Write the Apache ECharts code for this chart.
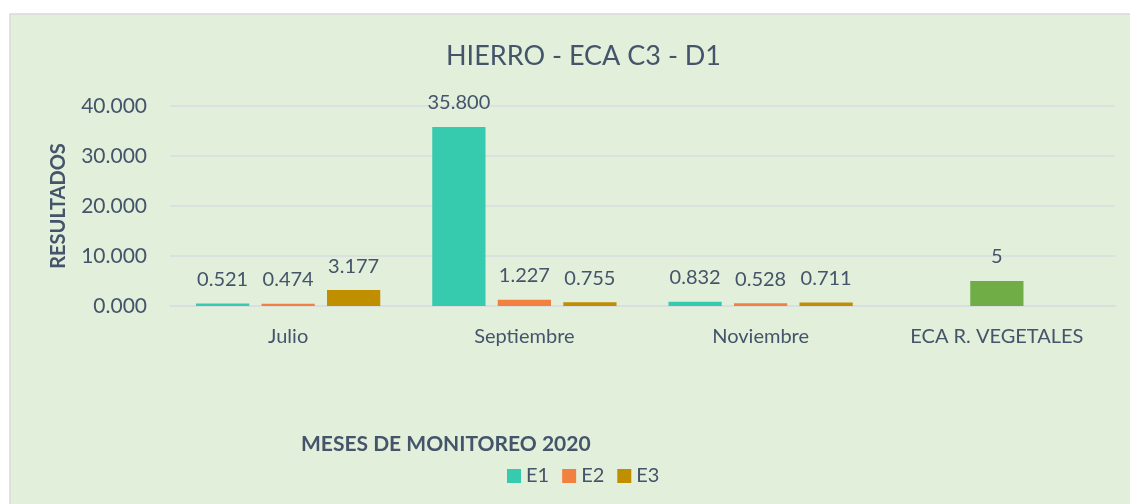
<!DOCTYPE html>
<html>
<head>
<meta charset="utf-8">
<script src="https://cdn.jsdelivr.net/npm/echarts@6/dist/echarts.min.js"></script>
<style>
  html, body { margin: 0; padding: 0; background: #fff; }
  #chart { width: 1130px; height: 504px; }
</style>
</head>
<body>
<div id="chart"></div>
<script>
// meses de monitoreo
const categories = ['Julio', 'Septiembre', 'Noviembre', 'ECA R. VEGETALES']
const e1 = [0.521, 35.800, 0.832, null]
const e2 = [0.474, 1.227, 0.528, null]
const e3 = [3.177, 0.755, 0.711, null]
const eca = [null, null, null, 5]
const yTicks = [0, 10, 20, 30, 40]

const txt = '#44546A'
const font = 'Lato'

const chart = echarts.init(document.getElementById('chart'))

const lbl = {
  show: true,
  position: 'top',
  distance: 14,
  color: txt,
  fontFamily: font,
  fontSize: 20,
  formatter: p => p.value == null ? '' : Number(p.value).toFixed(3)
}

chart.setOption({
  backgroundColor: '#fff',
  textStyle: { fontFamily: font },
  graphic: [{
    type: 'rect',
    z: -10,
    silent: true,
    shape: { x: 10, y: 14, width: 1130, height: 500 },
    style: { fill: '#E2EFDA', stroke: '#D9D9D9', lineWidth: 1.5 }
  }],
  title: [{
    text: 'HIERRO - ECA C3 - D1',
    left: 441,
    top: 38,
    textStyle: { color: txt, fontFamily: font, fontSize: 27, fontWeight: 'normal' }
  }, {
    text: 'MESES DE MONITOREO 2020',
    left: 296,
    top: 429,
    textStyle: { color: txt, fontFamily: font, fontSize: 21, fontWeight: 'bold' }
  }],
  legend: {
    data: ['E1', 'E2', 'E3'],
    left: 502,
    top: 461,
    itemWidth: 14,
    itemHeight: 14,
    itemGap: 13,
    icon: 'rect',
    textStyle: { color: txt, fontFamily: font, fontSize: 20 }
  },
  grid: { left: 170, right: 15, top: 106, bottom: 198 },
  xAxis: {
    type: 'category',
    data: categories,
    axisLine: { lineStyle: { color: '#D9DDE0', width: 1.5 } },
    axisTick: { show: false },
    axisLabel: { color: txt, fontFamily: font, fontSize: 20, margin: 21 }
  },
  yAxis: {
    type: 'value',
    min: yTicks[0],
    max: yTicks[yTicks.length - 1],
    interval: 10,
    name: 'RESULTADOS',
    nameLocation: 'middle',
    nameGap: 101,
    nameTextStyle: { color: txt, fontFamily: font, fontSize: 20, fontWeight: 'bold' },
    axisLine: { show: false },
    axisTick: { show: false },
    axisLabel: { color: txt, fontFamily: font, fontSize: 21, margin: 23, formatter: v => v.toFixed(3) },
    splitLine: { lineStyle: { color: '#D9DDE0', width: 1.5 } }
  },
  series: [
    { name: 'E1', type: 'bar', data: e1, barCategoryGap: '22%', barGap: '23%', itemStyle: { color: '#36CBAE' }, label: lbl },
    { name: 'E2', type: 'bar', stack: 'mid', data: e2, itemStyle: { color: '#F2813F' }, label: lbl },
    { name: 'E3', type: 'bar', data: e3, itemStyle: { color: '#BF8F00' }, label: lbl },
    { name: 'ECA', type: 'bar', stack: 'mid', data: eca, itemStyle: { color: '#70AD47' },
      label: Object.assign({}, lbl, { formatter: p => p.value == null ? '' : String(p.value) }) }
  ]
})
</script>
</body>
</html>
